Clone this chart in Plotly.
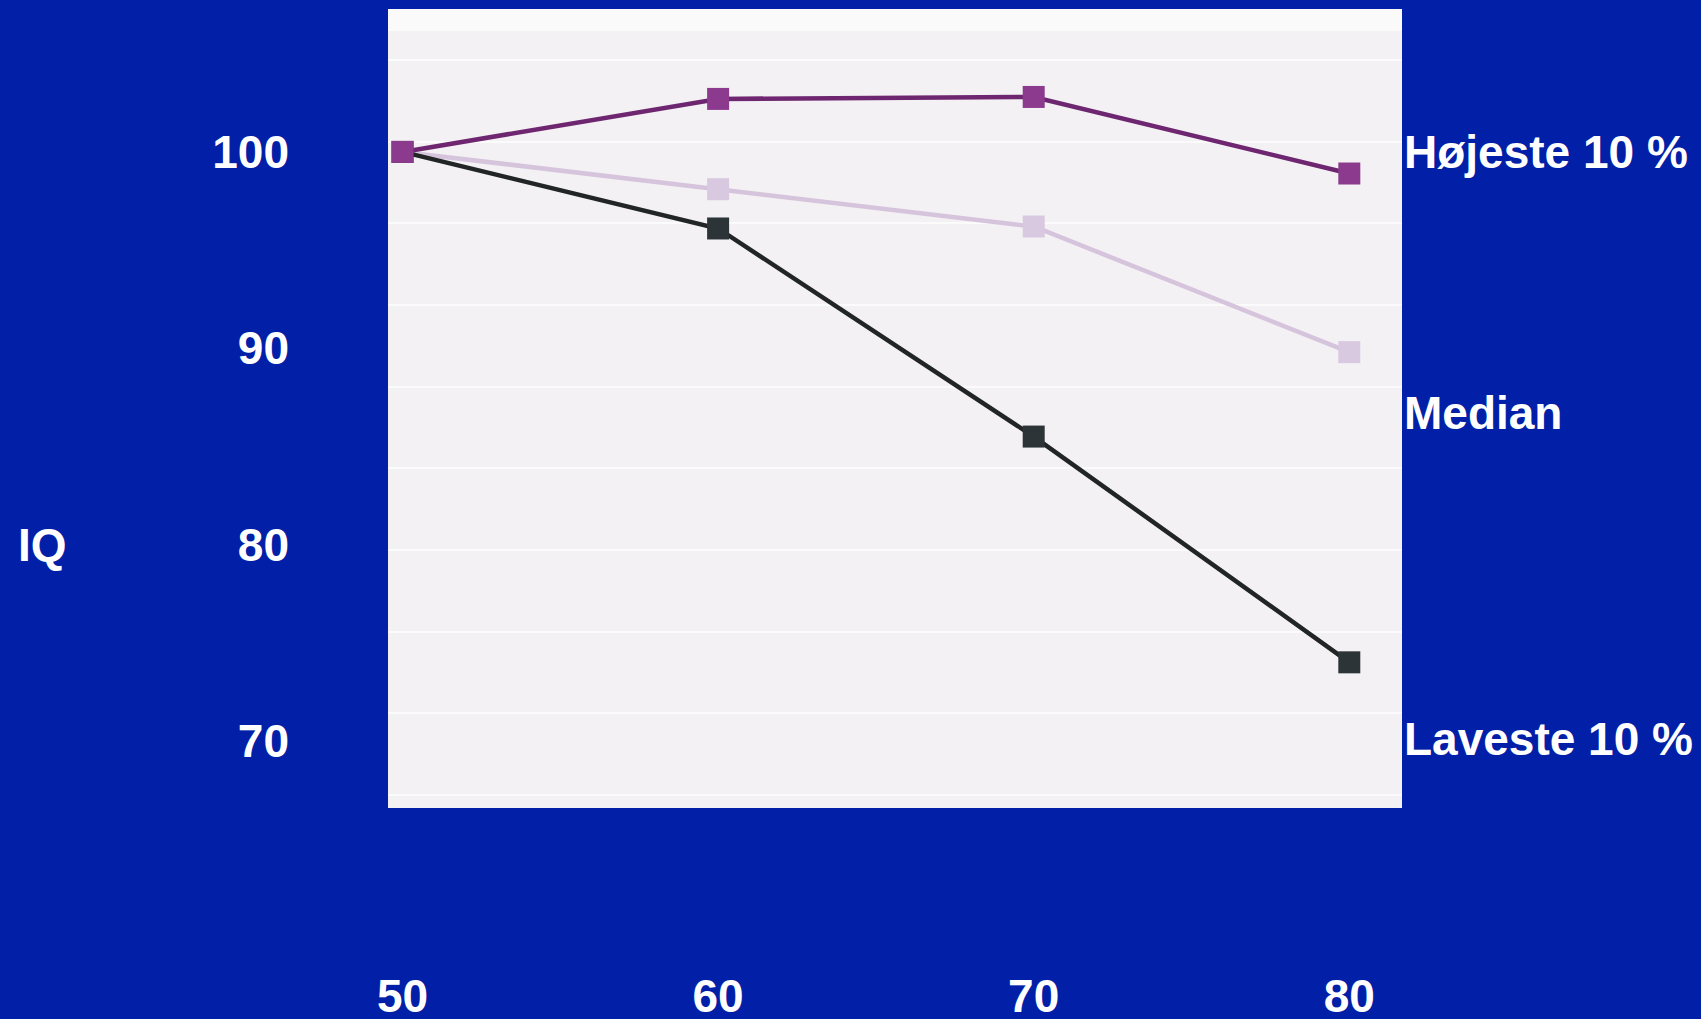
import plotly.graph_objects as go

# Data
ages = [50, 60, 70, 80]
hojeste = [100, 102.7, 102.8, 98.9]
median = [100, 98.1, 96.2, 89.8]
laveste = [100, 96.1, 85.5, 74.0]

y_ticks = [70, 80, 90, 100]
x_ticks = [50, 60, 70, 80]
series_labels = ["Højeste 10 %", "Median", "Laveste 10 %"]
series_label_y = [100, 86.7, 70.1]

BLUE = "#0220a7"
FONT = "Liberation Sans, Arial, Helvetica, sans-serif"
TXT = dict(family=FONT, size=46, color="white", weight="bold")

fig = go.Figure()

fig.add_trace(go.Scatter(
    x=ages, y=median, mode="lines+markers",
    line=dict(color="#d6c4dc", width=4.5),
    marker=dict(symbol="square", size=22, color="#d8c8e0"),
    showlegend=False, hoverinfo="skip"))
fig.add_trace(go.Scatter(
    x=ages, y=laveste, mode="lines+markers",
    line=dict(color="#222526", width=4.5),
    marker=dict(symbol="square", size=22, color="#2c3437"),
    showlegend=False, hoverinfo="skip"))
fig.add_trace(go.Scatter(
    x=ages, y=hojeste, mode="lines+markers",
    line=dict(color="#6e2670", width=4.5),
    marker=dict(symbol="square", size=22, color="#8c3a8e"),
    showlegend=False, hoverinfo="skip"))

# invisible trace on secondary y axis to carry the faint grid
fig.add_trace(go.Scatter(x=[50], y=[0], yaxis="y2", mode="markers",
                         marker=dict(opacity=0), showlegend=False, hoverinfo="skip"))

for lbl, ly in zip(series_labels, series_label_y):
    fig.add_annotation(text=lbl, xref="paper", x=1.0, xanchor="left",
                       yref="y", y=ly, yanchor="middle", showarrow=False,
                       font=TXT)

fig.add_annotation(text="IQ", xref="paper", x=(16 - 388) / 1014, xanchor="left",
                   yref="y", y=80, yanchor="middle", showarrow=False,
                   font=TXT)

# lighter band at the top of the plot area
fig.add_shape(type="rect", xref="paper", yref="paper", x0=0, x1=1,
              y0=1 - 22 / 799, y1=1, fillcolor="#fafafa", line_width=0, layer="below")

fig.update_layout(
    width=1701, height=1019,
    margin=dict(l=388, r=299, t=9, b=211, autoexpand=False),
    paper_bgcolor=BLUE,
    plot_bgcolor="#f3f1f4",
    font=TXT,
    xaxis=dict(range=[49.54, 81.67], tickvals=x_ticks, ticktext=[str(v) for v in x_ticks],
               showgrid=False, zeroline=False, showline=False, ticks="",
               automargin=False,
               ticklabelstandoff=157, tickfont=TXT),
    yaxis=dict(range=[66.58, 107.28], tickvals=y_ticks, ticktext=[str(v) for v in y_ticks],
               showgrid=False, zeroline=False, showline=False, ticks="",
               automargin=False,
               ticklabelstandoff=98, tickfont=TXT),
    yaxis2=dict(overlaying="y", range=[-0.159, 9.624], dtick=1, tick0=0,
                showgrid=True, gridcolor="#fbfbfc", gridwidth=2,
                showticklabels=False, zeroline=False, showline=False, ticks=""),
)

fig.write_html("out.html",
               config={"displayModeBar": False},
               post_script="document.body.style.margin='0';document.body.style.background='%s';" % BLUE)
